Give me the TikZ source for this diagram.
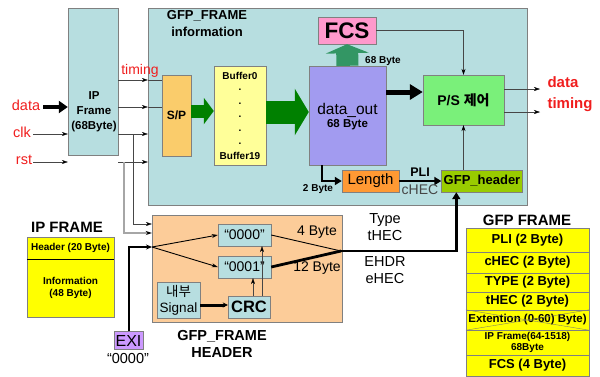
\documentclass[tikz,border=0pt]{standalone}
\usepackage{fontspec}
\setmainfont{Liberation Sans}
\newfontfamily\kr{Noto Sans CJK KR}
\usetikzlibrary{arrows.meta, calc}
\definecolor{cBlue}{RGB}{183,222,224}
\definecolor{cEdge}{RGB}{128,128,128}
\definecolor{cLine}{RGB}{70,70,70}
\definecolor{cSP}{RGB}{250,204,107}
\definecolor{cBuf}{RGB}{255,255,153}
\definecolor{cOut}{RGB}{162,155,240}
\definecolor{cPink}{RGB}{255,153,204}
\definecolor{cDkGreen}{RGB}{51,150,100}
\definecolor{cGreen}{RGB}{0,128,0}
\definecolor{cPS}{RGB}{122,240,122}
\definecolor{cLen}{RGB}{255,153,51}
\definecolor{cHdr}{RGB}{153,204,0}
\definecolor{cPeach}{RGB}{252,204,153}
\definecolor{cExi}{RGB}{204,153,255}
\definecolor{cYel}{RGB}{255,255,0}
\definecolor{cRed}{RGB}{240,30,30}
\newcommand{\fsz}[2]{\fontsize{#1pt}{#2pt}\selectfont}
\tikzset{
	blk/.style   ={rectangle, draw=cEdge, inner sep=0pt, align=center},
	row/.style   ={blk, fill=cYel, minimum width=123pt, font=\bfseries\fsz{13}{14}},
	lbl/.style   ={inner sep=0pt, align=center},
	redlbl/.style={lbl, text=cRed},
	sig/.style   ={draw=cLine, -{Stealth[length=6pt, width=4pt, black]}},
	fatarr/.style={-{Triangle[length=13pt, width=15pt]}, line width=5pt},
	midarr/.style={-{Triangle[length=7pt, width=8pt]}, line width=2.2pt},
}

\begin{document}
\begin{tikzpicture}[x=1pt, y=-1pt]
	\useasboundingbox (0,0) rectangle (600,376);
	% IP frame and GFP_FRAME information
	\node[blk, fill=cBlue, minimum width=50pt, minimum height=147pt] (ipf) at (93,81.5) {};
	\node[lbl, font=\bfseries\fsz{11.5}{15}] (ipft) at (94,112) {IP\\Frame\\(68Byte)};
	\node[blk, fill=cBlue, minimum width=379pt, minimum height=197pt] (gfp) at (337.5,106.5) {};
	\node[lbl, font=\bfseries\fsz{13}{17}] (gfpt) at (207,23.5) {GFP\_FRAME\\information};

	\node[redlbl, font=\fsz{14.5}{15}] (ind) at (26,105) {data};
	\node[redlbl, font=\fsz{14.5}{15}] (clk) at (22,132) {clk};
	\node[redlbl, font=\fsz{14.5}{15}] (rst) at (24,160) {rst};
	\node[redlbl, font=\fsz{14}{15}] (tim) at (140,71) {timing};
	\draw[-{Triangle[length=9pt, width=12pt]}, line width=4pt] (43,107) -- (ipf.west |- 43,107);
	\draw[sig] (33,134) -- (ipf.west |- 33,134);
	\draw[sig] (33,162) -- (ipf.west |- 33,162);

	\node[blk, fill=cSP, minimum width=29pt, minimum height=81pt, font=\bfseries\fsz{12}{13}] (sp) at (176.5,115.5) {S/P};
	\foreach \y/\n in {80/a, 107/b, 134/c, 162/d}
		\draw[sig] (ipf.east |- 0,\y) -- (gfp.west |- 0,\y) coordinate (g\n);
	\draw[cLine] (ga) -- (sp.west |- ga);
	\draw[cLine] (gb) -- (sp.west |- gb);

	\node[blk, fill=cBuf, minimum width=52pt, minimum height=99pt] (buf) at (240,115.5) {};
	\node[lbl, font=\bfseries\fsz{10}{11}] (b0) at (240,76) {Buffer0};
	\node[lbl, font=\bfseries\fsz{10}{11}] (b19) at (240,156) {Buffer19};
	\foreach \y in {90,104,117,131,144}
		\node[lbl, font=\bfseries\fsz{10}{11}] at (240,\y) {.};

	\node[blk, fill=cOut, minimum width=77pt, minimum height=99pt] (dout) at (347.5,115.5) {};
	\node[lbl, font=\fsz{15.5}{16}] (dot) at (347.5,110) {data\_out};
	\node[lbl, font=\bfseries\fsz{11.5}{12}] (d68) at (347.5,125) {68 Byte};
	\node[blk, fill=cPink, minimum width=58pt, minimum height=27pt, font=\bfseries\fsz{22.5}{23}] (fcs) at (347,30.5) {FCS};
	\node[lbl, font=\bfseries\fsz{10}{11}] (b68) at (383,61) {68 Byte};
	\node[blk, fill=cPS, minimum width=81pt, minimum height=50pt, font=\bfseries\fsz{14}{15}] (ps) at (463.5,100) {P/S {\kr 제어}};

	\draw[cGreen, line width=13pt, -{Triangle[length=10pt, width=26pt]}] (sp.east |- 0,111) -- (buf.west |- 0,111);
	\draw[cGreen, line width=23pt, -{Triangle[length=14pt, width=46pt]}] (buf.east |- 0,112) -- (dout.west |- 0,112);
	\draw[cDkGreen, line width=22pt, -{Triangle[length=9pt, width=43pt]}] (dout.north) -- (fcs.south);
	\draw[sig] (fcs.east) -| (ps.north);
	\draw[fatarr] (dout.east |- 0,92) -- (ps.west |- 0,92);

	\coordinate (od) at (540,89);
	\coordinate (ot) at (540,112);
	\draw[sig] (ps.east |- od) -- (od);
	\draw[sig] (ps.east |- ot) -- (ot);
	\node[redlbl, font=\bfseries\fsz{15}{16}] (outd) at (563,82) {data};
	\node[redlbl, font=\bfseries\fsz{15}{16}] (outt) at (570,105) {timing};

	\node[blk, fill=cLen, minimum width=57pt, minimum height=22pt, font=\fsz{15}{16}] (len) at (370.5,181) {Length};
	\node[blk, fill=cHdr, minimum width=81pt, minimum height=22pt, font=\bfseries\fsz{13}{14}] (hdr) at (482,181) {GFP\_header};
	\draw[sig] (ps.south |- hdr.north) -- (ps.south);
	\draw[midarr] ($(dout.south west)+(13,0)$) |- (len.west);
	\draw[midarr] (len.east) -- (hdr.west);
	\node[lbl, font=\bfseries\fsz{10}{11}] (b2) at (318,189) {2 Byte};
	\node[lbl, font=\bfseries\fsz{12.5}{13}] (pli) at (420,172) {PLI};
	\node[lbl, font=\fsz{14}{15}, text=cLine] (chec) at (420,190) {cHEC};

	% GFP_FRAME header
	\node[blk, fill=cPeach, minimum width=190pt, minimum height=107pt] (fhd) at (247,268.5) {};
	\node[blk, fill=cBlue, minimum width=53pt, minimum height=22pt, font=\fsz{14}{15}] (z0) at (244.5,235) {“0000”};
	\node[blk, fill=cBlue, minimum width=53pt, minimum height=22pt, font=\fsz{14}{15}] (z1) at (244.5,267) {“0001”};
	\node[blk, fill=cBlue, minimum width=43pt, minimum height=36pt, font=\fsz{13.5}{16}] (sigb) at (178.5,300) {{\kr 내부}\\Signal};
	\node[blk, fill=cBlue, minimum width=42pt, minimum height=22pt, font=\bfseries\fsz{16.5}{17}] (crc) at (249,307) {CRC};
	\node[blk, fill=cExi, minimum width=29pt, minimum height=18pt, font=\fsz{16}{16}] (exi) at (128.5,340.5) {EXI};
	\node[lbl, font=\fsz{14.5}{15}] (exil) at (128,359) {“0000”};

	\coordinate (bc) at (133,134);
	\coordinate (bd) at (124,162);
	\coordinate (fan) at (152,247);
	\coordinate (mrg) at (341,251);
	\draw[sig] (bc) |- (fhd.west |- 0,224);
	\draw[sig, draw=cEdge!70, line width=1.4pt] (bd) |- (fhd.west |- 0,233);
	\draw[line width=2pt, -{Stealth[length=6pt, width=5pt]}] (exi.north) |- (fan);
	\draw[sig, draw=black, line width=0.9pt] (fan) -- (z0.west);
	\draw[sig, draw=black, line width=0.9pt] (fan) -- (z1.west);
	\draw[midarr, -{Stealth[length=5pt, width=5pt]}, line width=3pt] (sigb.east |- 0,305) -- (crc.west |- 0,305);
	\coordinate (c1) at ([xshift=4pt]crc.north);
	\coordinate (c2) at ([xshift=13pt]crc.north);
	\draw[sig] (c1) -- (c1 |- z1.south);
	\draw[sig] (c2) -- (c2 |- z0.south);
	\draw[line width=0.9pt] (z0.east) -- (mrg);
	\draw[line width=2.8pt] (z1.east) -- (mrg);
	\draw[midarr, line width=2.8pt] (mrg) -| ($(hdr.south west)+(15,0)$);
	\node[lbl, font=\fsz{14}{15}] (b4) at (317,232) {4 Byte};
	\node[lbl, font=\fsz{14}{15}] (b12) at (317,268) {12 Byte};
	\node[lbl, font=\fsz{14.5}{17}] (typ) at (385,227.5) {Type\\tHEC};
	\node[lbl, font=\fsz{14.5}{17}] (ehd) at (385,270.5) {EHDR\\eHEC};
	\node[lbl, font=\bfseries\fsz{14.5}{17}] (fhdt) at (222,343.5) {GFP\_FRAME\\HEADER};

	% frame layouts
	\node[lbl, font=\bfseries\fsz{15}{16}] (iplab) at (67,227) {IP FRAME};
	\node[blk, fill=cYel, minimum width=87pt, minimum height=22pt, font=\bfseries\fsz{10}{11}] (iph) at (70.5,248) {Header (20 Byte)};
	\node[blk, fill=cYel, minimum width=87pt, minimum height=58pt, font=\bfseries\fsz{10}{12.5}] (ipi) at (70.5,288) {Information\\(48 Byte)};
	\draw[line width=1pt] (iph.south west) -- (iph.south east);

	\node[lbl, font=\bfseries\fsz{15}{16}] (gflab) at (527,220) {GFP FRAME};
	\node[row, minimum height=24pt] (rpli) at (527.5,240) {PLI (2 Byte)};
	\node[row, minimum height=21pt] (rchec) at (527.5,262.5) {cHEC (2 Byte)};
	\node[row, minimum height=19pt] (rtype) at (527.5,282.5) {TYPE (2 Byte)};
	\node[row, minimum height=18pt] (rthec) at (527.5,301) {tHEC (2 Byte)};
	\node[row, minimum height=20pt, font=\bfseries\fsz{11.5}{12}] (rext) at (527.5,320) {Extention (0-60) Byte)};
	\node[row, minimum height=25pt, font=\bfseries\fsz{10}{11}] (ripf) at (527.5,342.5) {IP Frame(64-1518)\\68Byte};
	\node[row, minimum height=21pt] (rfcs) at (527.5,365.5) {FCS (4 Byte)};
	\draw[cEdge!80!olive] (rext.north west) -- (rext.south east);
	\draw[cEdge!80!olive] (rext.south west) -- (rext.north east);
\end{tikzpicture}
\end{document}
